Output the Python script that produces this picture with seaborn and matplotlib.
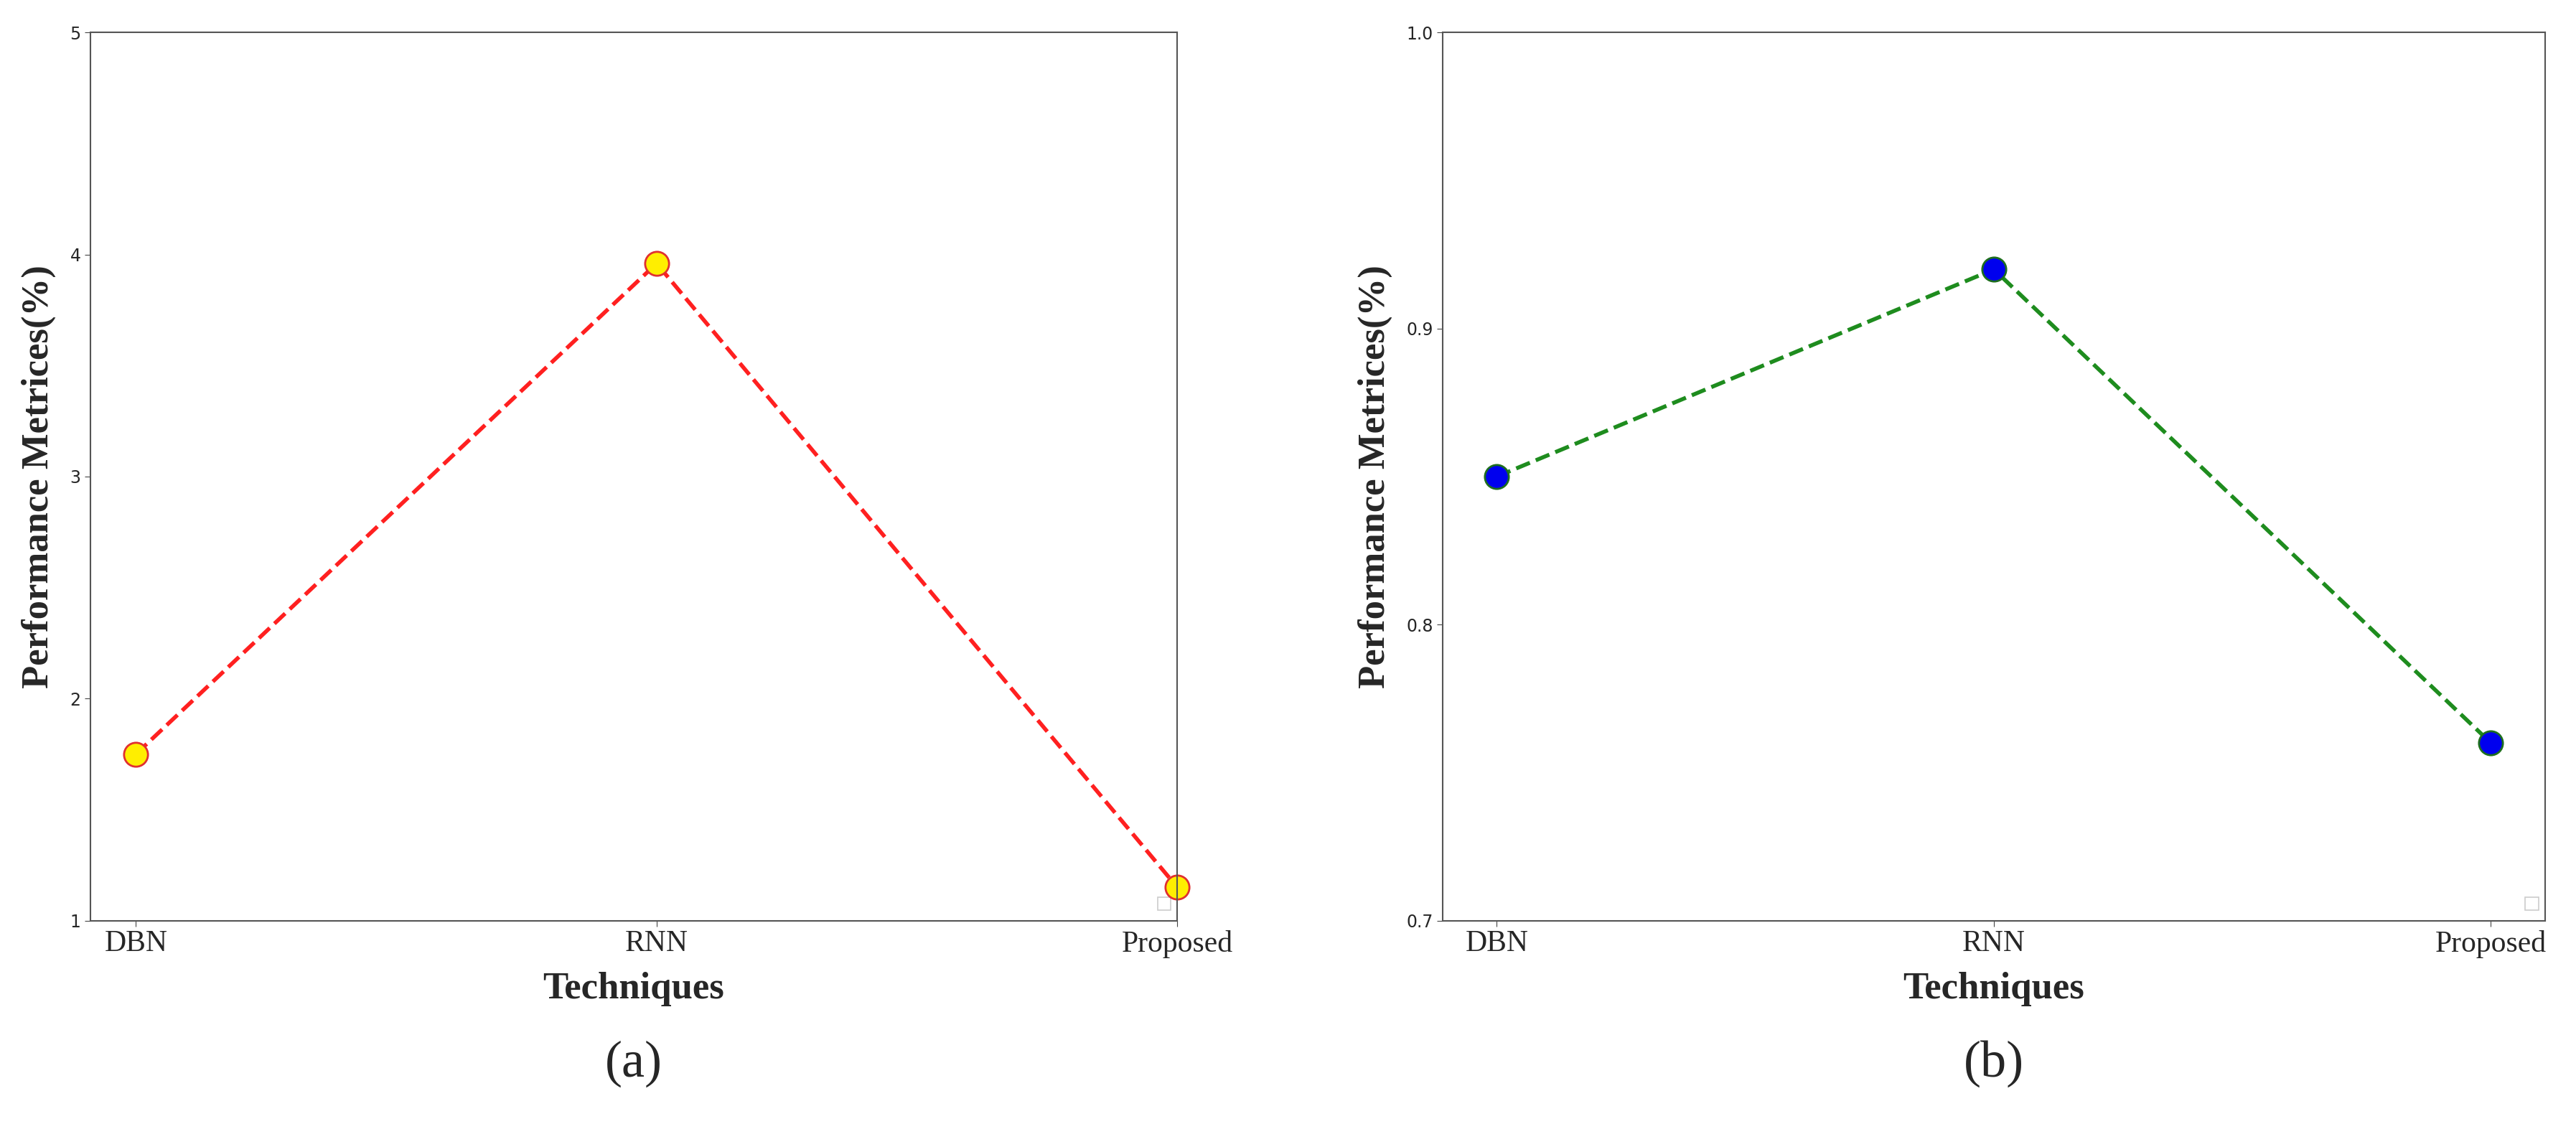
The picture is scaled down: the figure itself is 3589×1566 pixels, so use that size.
import matplotlib
matplotlib.use("Agg")
import matplotlib.pyplot as plt
import seaborn as sns
import pandas as pd

sns.set_style("white")
techniques = ["DBN", "RNN", "Proposed"]
values_a = [1.75, 3.96, 1.15]
values_b = [0.85, 0.92, 0.76]
yticks_a = [1, 2, 3, 4, 5]
yticks_b = [0.7, 0.8, 0.9, 1.0]

fig = plt.figure(figsize=(35.89, 15.66), dpi=100)
ax1 = fig.add_axes([0.035, 0.181, 0.422, 0.790])
ax2 = fig.add_axes([0.560, 0.181, 0.428, 0.790])

serif = "Liberation Serif"
for ax, vals, yt, lc, mfc, mec, lab, xl in [
    (ax1, values_a, yticks_a, "#ff2020", "#ffee00", "#e03030", "(a)", (-0.088, 2.0)),
    (ax2, values_b, yticks_b, "#1e8c1e", "#0000ee", "#1e6e1e", "(b)", (-0.109, 2.109)),
]:
    df = pd.DataFrame({"x": range(len(techniques)), "y": vals})
    sns.lineplot(data=df, x="x", y="y", ax=ax, color=lc, linestyle="--", linewidth=4,
                 marker="o", markersize=24, markerfacecolor=mfc, markeredgecolor=mec,
                 markeredgewidth=2, clip_on=False)
    ax.set_xlim(*xl)
    ax.set_ylim(yt[0], yt[-1])
    ax.set_yticks(yt)
    ax.set_yticklabels([str(v) for v in yt], fontsize=17)
    ax.set_xticks(range(len(techniques)))
    ax.set_xticklabels(techniques, fontsize=30, family=serif)
    ax.tick_params(axis="both", length=6, color="#444444", direction="out", bottom=True, left=True)
    ax.set_xlabel("Techniques", fontsize=38, family=serif, fontweight="bold", labelpad=14)
    ax.set_ylabel("Performance Metrices(%)", fontsize=38, family=serif, fontweight="bold", labelpad=14)
    for s in ax.spines.values():
        s.set_color("#555555"); s.set_linewidth(1.5)
    ax.text(0.5, -0.135, lab, transform=ax.transAxes, ha="center", va="top",
            fontsize=52, family=serif)
    ax.add_patch(plt.Rectangle((0.982, 0.012), 0.012, 0.014, transform=ax.transAxes,
                               fill=False, edgecolor="#cccccc", linewidth=1.2))

fig.savefig("out.png", dpi=100)
